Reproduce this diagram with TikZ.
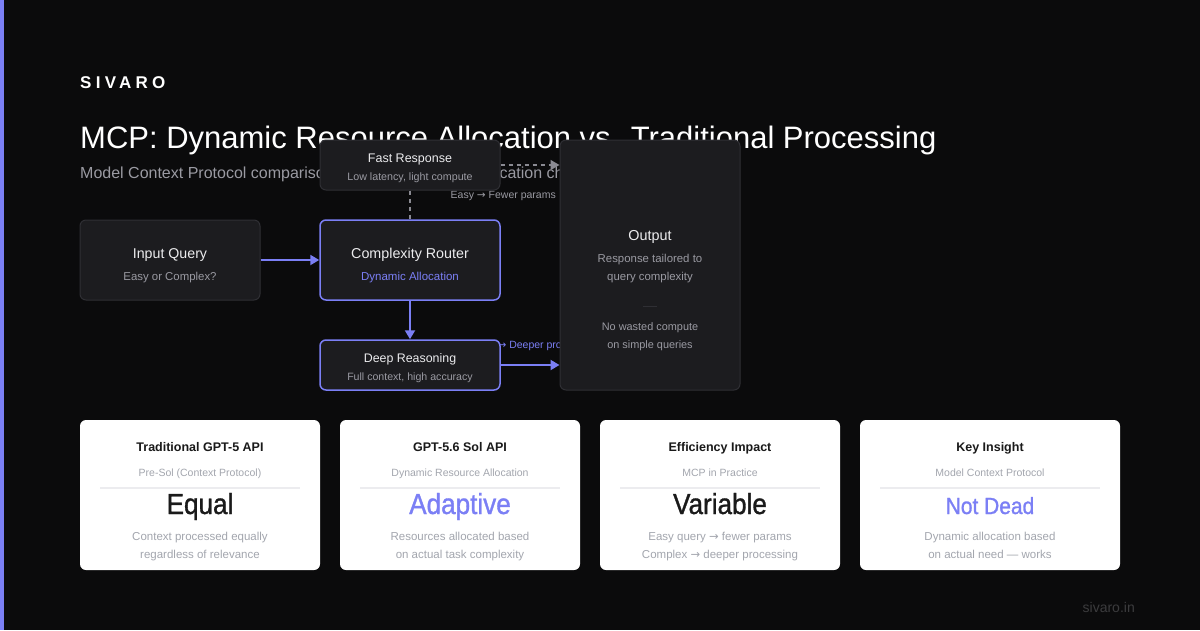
\documentclass[tikz,border=0pt]{standalone}
\usepackage{fontspec}
\usetikzlibrary{arrows.meta}
\setmainfont{Liberation Sans}
\newfontfamily\bigfont[FakeStretch=0.9,FakeBold=1.1]{Liberation Sans}
\newfontfamily\logofont[LetterSpace=25]{Liberation Sans}
\newfontfamily\symfont{DejaVu Sans}
\newcommand{\fsz}[1]{\fontsize{#1}{#1}\selectfont}
\newcommand{\arr}{{\symfont →}}
\definecolor{bg}{HTML}{0B0B0C}
\definecolor{accent}{HTML}{7B7FF5}
\definecolor{boxfill}{HTML}{1C1C1F}
\definecolor{boxline}{HTML}{2F2F34}
\definecolor{soft}{HTML}{9A9AA2}
\definecolor{head}{HTML}{ECECEE}
\definecolor{dashgray}{HTML}{8A8A92}
\definecolor{cardtitle}{HTML}{1A1A1A}
\definecolor{cardsub}{HTML}{A3A6AE}
\definecolor{carddiv}{HTML}{ECECEF}
\definecolor{footer}{HTML}{3C3C3E}
\tikzset{
  box/.style={rectangle, rounded corners=6pt, fill=boxfill, draw=boxline, line width=1pt,
    minimum width=180pt, minimum height=80pt, inner sep=0pt},
  hot/.style={box, draw=accent, line width=1.5pt},
  card/.style={rectangle, rounded corners=6pt, fill=white, minimum width=240pt,
    minimum height=150pt, inner sep=0pt},
  txt/.style={inner sep=0pt, anchor=base},
  flow/.style={draw=accent, line width=2pt, -{Triangle[length=9pt,width=10pt]}},
  ghost/.style={draw=dashgray, line width=1.5pt, dash pattern=on 4pt off 4pt},
  ghostflow/.style={ghost, -{Triangle[length=9pt,width=10pt]}},
}
\begin{document}
\begin{tikzpicture}[x=1pt,y=-1pt]
\useasboundingbox (0,0) rectangle (1200,630);
\fill[bg] (0,0) rectangle (1200,630);
\fill[accent] (0,0) rectangle (4,630);

% header
\node[txt, anchor=base west, text=white] (brand) at (80,88) {\logofont\bfseries\fsz{17}SIVARO};
\node[txt, anchor=base west, text=white] (title) at (80,148) {\fsz{31}MCP: Dynamic Resource Allocation vs. Traditional Processing};
\node[txt, anchor=base west, text=soft] (subtitle) at (80,178) {\fsz{16}Model Context Protocol comparison: dynamic resource allocation changes the equation};

% edge labels (partly covered by boxes)
\node[txt, anchor=base west, text=soft] (easylbl) at (450.5,198) {\fsz{10.5}Easy \arr{} Fewer params};
\node[txt, anchor=base west, text=accent] (cpxlbl) at (453,348) {\fsz{10.5}Complex \arr{} Deeper processing};

% boxes
\node[box, minimum height=50pt] (fast) at (410,165) {};
\node[box] (input) at (170,260) {};
\node[hot] (router) at (410,260) {};
\node[hot, minimum height=50pt] (deep) at (410,365) {};
\node[box, minimum height=250pt] (output) at (650,265) {};

% box texts
\node[txt, text=head] (fastT) at (410,162) {\fsz{12.5}Fast Response};
\node[txt, text=soft] (fastS) at (410,180) {\fsz{10.7}Low latency, light compute};
\node[txt, text=head] (inT) at (170,258.5) {\fsz{14.2}Input Query};
\node[txt, text=soft] (inS) at (170,280) {\fsz{11.4}Easy or Complex?};
\node[txt, text=head] (rtT) at (410,258.5) {\fsz{14.3}Complexity Router};
\node[txt, text=accent] (rtS) at (410,280) {\fsz{11.5}Dynamic Allocation};
\node[txt, text=head] (dpT) at (410,362) {\fsz{12.4}Deep Reasoning};
\node[txt, text=soft] (dpS) at (410,380) {\fsz{10.6}Full context, high accuracy};
\node[txt, text=head] (outT) at (650,240) {\fsz{14.4}Output};
\node[txt, text=soft] (outS1) at (650,262) {\fsz{11.4}Response tailored to};
\node[txt, text=soft] (outS2) at (650,280) {\fsz{11.4}query complexity};
\coordinate (divL) at (643,306);
\coordinate (divR) at (657,306);
\draw[boxline, line width=1pt] (divL) -- (divR);
\node[txt, text=soft] (outS3) at (650,330) {\fsz{10.9}No wasted compute};
\node[txt, text=soft] (outS4) at (650,348) {\fsz{10.9}on simple queries};

% connectors
\draw[flow] (input.east) -- (router.west);
\draw[flow] (router.south) -- (deep.north);
\draw[flow] (deep.east) -- (deep.east -| output.west);
\draw[ghostflow] (fast.east) -- (fast.east -| output.west);
\draw[ghost] (fast.south) -- (router.north);

% cards
\node[card] (c1) at (200,495) {};
\node[card] (c2) at (460,495) {};
\node[card] (c3) at (720,495) {};
\node[card, minimum width=260pt] (c4) at (990,495) {};

\node[txt, text=cardtitle] (c1t) at (200,451.5) {\bfseries\fsz{12.5}Traditional GPT-5 API};
\node[txt, text=cardsub] (c1s) at (200,476) {\fsz{10.5}Pre-Sol (Context Protocol)};
\draw[carddiv, line width=1.5pt] (100,488) -- (300,488);
\node[txt, text=cardtitle] (c1b) at (200,514) {\bigfont\fsz{29}Equal};
\node[txt, text=cardsub] (c1d1) at (200,540.5) {\fsz{11.5}Context processed equally};
\node[txt, text=cardsub] (c1d2) at (200,558.5) {\fsz{11.5}regardless of relevance};

\node[txt, text=cardtitle] (c2t) at (460,451.5) {\bfseries\fsz{12.5}GPT-5.6 Sol API};
\node[txt, text=cardsub] (c2s) at (460,476) {\fsz{10.5}Dynamic Resource Allocation};
\draw[carddiv, line width=1.5pt] (360,488) -- (560,488);
\node[txt, text=accent] (c2b) at (460,514) {\bigfont\fsz{29}Adaptive};
\node[txt, text=cardsub] (c2d1) at (460,540.5) {\fsz{11.5}Resources allocated based};
\node[txt, text=cardsub] (c2d2) at (460,558.5) {\fsz{11.5}on actual task complexity};

\node[txt, text=cardtitle] (c3t) at (720,451.5) {\bfseries\fsz{12.5}Efficiency Impact};
\node[txt, text=cardsub] (c3s) at (720,476) {\fsz{10.5}MCP in Practice};
\draw[carddiv, line width=1.5pt] (620,488) -- (820,488);
\node[txt, text=cardtitle] (c3b) at (720,514) {\bigfont\fsz{29}Variable};
\node[txt, text=cardsub] (c3d1) at (720,540.5) {\fsz{11.5}Easy query \arr{} fewer params};
\node[txt, text=cardsub] (c3d2) at (720,558.5) {\fsz{11.5}Complex \arr{} deeper processing};

\node[txt, text=cardtitle] (c4t) at (990,451.5) {\bfseries\fsz{12.5}Key Insight};
\node[txt, text=cardsub] (c4s) at (990,476) {\fsz{10.5}Model Context Protocol};
\draw[carddiv, line width=1.5pt] (880,488) -- (1100,488);
\node[txt, text=accent] (c4b) at (990,514) {\bigfont\fsz{23.3}Not Dead};
\node[txt, text=cardsub] (c4d1) at (990,540.5) {\fsz{11.5}Dynamic allocation based};
\node[txt, text=cardsub] (c4d2) at (990,558.5) {\fsz{11.5}on actual need — works};

% footer
\node[txt, anchor=base east, text=footer] (site) at (1135,612) {\fsz{14}sivaro.in};
\end{tikzpicture}
\end{document}
